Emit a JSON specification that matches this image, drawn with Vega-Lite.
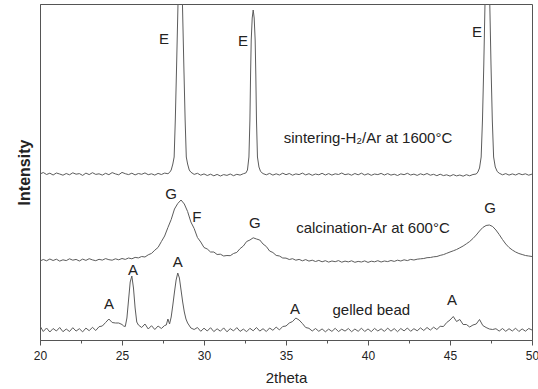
{
  "$schema": "https://vega.github.io/schema/vega-lite/v6.json",
  "width": 492,
  "height": 336,
  "autosize": "none",
  "padding": {"left": 40, "top": 4, "right": 6, "bottom": 49},
  "background": "white",
  "config": {"view": {"stroke": "#555", "strokeWidth": 1}, "font": "Liberation Sans"},
  "resolve": {"scale": {"x": "shared", "y": "shared"}, "axis": {"x": "independent"}},
  "layer": [
    {
      "data": {"values": [
        {"s":"t","x":20.0,"y":166},{"s":"t","x":20.2,"y":167.5},{"s":"t","x":20.4,"y":165.5},{"s":"t","x":20.6,"y":166.8},{"s":"t","x":20.8,"y":165},
        {"s":"t","x":21.0,"y":167},{"s":"t","x":21.2,"y":166},{"s":"t","x":21.4,"y":164.8},{"s":"t","x":21.6,"y":166.5},{"s":"t","x":21.8,"y":165.2},
        {"s":"t","x":22.0,"y":167.2},{"s":"t","x":22.2,"y":165.8},{"s":"t","x":22.4,"y":166.4},{"s":"t","x":22.6,"y":164.6},{"s":"t","x":22.8,"y":166.9},
        {"s":"t","x":23.0,"y":165.4},{"s":"t","x":23.2,"y":167.3},{"s":"t","x":23.4,"y":165.6},{"s":"t","x":23.6,"y":166.2},{"s":"t","x":23.8,"y":164.9},
        {"s":"t","x":24.0,"y":166.7},{"s":"t","x":24.2,"y":165.3},{"s":"t","x":24.4,"y":167.4},{"s":"t","x":24.6,"y":166.1},{"s":"t","x":24.8,"y":165.2},
        {"s":"t","x":25.0,"y":167.6},{"s":"t","x":25.2,"y":166.3},{"s":"t","x":25.4,"y":165.4},{"s":"t","x":25.6,"y":166.8},{"s":"t","x":25.8,"y":165.1},
        {"s":"t","x":26.0,"y":166.5},{"s":"t","x":26.2,"y":165.7},{"s":"t","x":26.4,"y":167.1},{"s":"t","x":26.6,"y":165.3},{"s":"t","x":26.8,"y":166.2},
        {"s":"t","x":27.0,"y":164.9},{"s":"t","x":27.2,"y":166.6},{"s":"t","x":27.4,"y":165.5},{"s":"t","x":27.6,"y":166.9},{"s":"t","x":27.8,"y":166.3},
        {"s":"t","x":27.9,"y":167.5},{"s":"t","x":28.0,"y":170},{"s":"t","x":28.1,"y":176},{"s":"t","x":28.18,"y":183},{"s":"t","x":28.25,"y":220},
        {"s":"t","x":28.33,"y":275},{"s":"t","x":28.41,"y":333},{"s":"t","x":28.48,"y":385},{"s":"t","x":28.55,"y":432},{"s":"t","x":28.62,"y":385},
        {"s":"t","x":28.69,"y":333},{"s":"t","x":28.77,"y":275},{"s":"t","x":28.85,"y":220},{"s":"t","x":28.92,"y":183},{"s":"t","x":29.0,"y":176},
        {"s":"t","x":29.1,"y":170},{"s":"t","x":29.2,"y":167.8},{"s":"t","x":29.4,"y":165.6},{"s":"t","x":29.6,"y":166.7},{"s":"t","x":29.8,"y":164.8},
        {"s":"t","x":30.0,"y":166.1},{"s":"t","x":30.2,"y":164.5},{"s":"t","x":30.4,"y":165.8},{"s":"t","x":30.6,"y":164.2},{"s":"t","x":30.8,"y":165.6},
        {"s":"t","x":31.0,"y":164},{"s":"t","x":31.2,"y":165.4},{"s":"t","x":31.4,"y":164.6},{"s":"t","x":31.6,"y":166},{"s":"t","x":31.8,"y":164.3},
        {"s":"t","x":32.0,"y":165.7},{"s":"t","x":32.2,"y":164.9},{"s":"t","x":32.4,"y":166.3},{"s":"t","x":32.55,"y":167},{"s":"t","x":32.65,"y":170},
        {"s":"t","x":32.74,"y":183},{"s":"t","x":32.8,"y":220},{"s":"t","x":32.84,"y":265},{"s":"t","x":32.88,"y":300},{"s":"t","x":32.94,"y":322},
        {"s":"t","x":33.0,"y":330},{"s":"t","x":33.06,"y":322},{"s":"t","x":33.12,"y":300},{"s":"t","x":33.16,"y":265},{"s":"t","x":33.2,"y":220},
        {"s":"t","x":33.26,"y":183},{"s":"t","x":33.35,"y":173},{"s":"t","x":33.45,"y":168.5},{"s":"t","x":33.6,"y":166.4},{"s":"t","x":33.8,"y":165.2},
        {"s":"t","x":34.0,"y":166.6},{"s":"t","x":34.2,"y":164.9},{"s":"t","x":34.4,"y":166.2},{"s":"t","x":34.6,"y":165},{"s":"t","x":34.8,"y":166.8},
        {"s":"t","x":35.0,"y":165.3},{"s":"t","x":35.2,"y":166.5},{"s":"t","x":35.4,"y":164.8},{"s":"t","x":35.6,"y":166.1},{"s":"t","x":35.8,"y":165.4},
        {"s":"t","x":36.0,"y":166.9},{"s":"t","x":36.2,"y":165.1},{"s":"t","x":36.4,"y":166.3},{"s":"t","x":36.6,"y":164.7},{"s":"t","x":36.8,"y":166},
        {"s":"t","x":37.0,"y":165.2},{"s":"t","x":37.2,"y":166.7},{"s":"t","x":37.4,"y":165},{"s":"t","x":37.6,"y":166.4},{"s":"t","x":37.8,"y":164.9},
        {"s":"t","x":38.0,"y":166.2},{"s":"t","x":38.2,"y":165.5},{"s":"t","x":38.4,"y":167},{"s":"t","x":38.6,"y":165.3},{"s":"t","x":38.8,"y":166.1},
        {"s":"t","x":39.0,"y":164.8},{"s":"t","x":39.2,"y":166.5},{"s":"t","x":39.4,"y":165.2},{"s":"t","x":39.6,"y":166.8},{"s":"t","x":39.8,"y":165},
        {"s":"t","x":40.0,"y":166.3},{"s":"t","x":40.2,"y":164.7},{"s":"t","x":40.4,"y":166},{"s":"t","x":40.6,"y":165.4},{"s":"t","x":40.8,"y":166.6},
        {"s":"t","x":41.0,"y":165},{"s":"t","x":41.2,"y":166.4},{"s":"t","x":41.4,"y":164.9},{"s":"t","x":41.6,"y":165.8},{"s":"t","x":41.8,"y":164.5},
        {"s":"t","x":42.0,"y":166.1},{"s":"t","x":42.2,"y":165.3},{"s":"t","x":42.4,"y":166.7},{"s":"t","x":42.6,"y":165},{"s":"t","x":42.8,"y":165.9},
        {"s":"t","x":43.0,"y":164.6},{"s":"t","x":43.2,"y":166.2},{"s":"t","x":43.4,"y":165.1},{"s":"t","x":43.6,"y":166.5},{"s":"t","x":43.8,"y":164.8},
        {"s":"t","x":44.0,"y":165.7},{"s":"t","x":44.2,"y":164.3},{"s":"t","x":44.4,"y":165.8},{"s":"t","x":44.6,"y":164.4},{"s":"t","x":44.8,"y":165.2},
        {"s":"t","x":45.0,"y":163.9},{"s":"t","x":45.2,"y":165.4},{"s":"t","x":45.4,"y":164.1},{"s":"t","x":45.6,"y":165},{"s":"t","x":45.8,"y":163.8},
        {"s":"t","x":46.0,"y":165.3},{"s":"t","x":46.2,"y":164.2},{"s":"t","x":46.4,"y":165.5},{"s":"t","x":46.6,"y":166},{"s":"t","x":46.7,"y":168},
        {"s":"t","x":46.8,"y":172},{"s":"t","x":46.9,"y":183},{"s":"t","x":46.98,"y":220},{"s":"t","x":47.06,"y":275},{"s":"t","x":47.13,"y":333},
        {"s":"t","x":47.2,"y":390},{"s":"t","x":47.28,"y":450},{"s":"t","x":47.36,"y":390},{"s":"t","x":47.43,"y":333},{"s":"t","x":47.5,"y":275},
        {"s":"t","x":47.58,"y":220},{"s":"t","x":47.66,"y":183},{"s":"t","x":47.76,"y":173},{"s":"t","x":47.88,"y":168.5},{"s":"t","x":48.0,"y":166.8},
        {"s":"t","x":48.2,"y":165.2},{"s":"t","x":48.4,"y":166.4},{"s":"t","x":48.6,"y":164.9},{"s":"t","x":48.8,"y":166.1},{"s":"t","x":49.0,"y":165},
        {"s":"t","x":49.2,"y":166.5},{"s":"t","x":49.4,"y":165.3},{"s":"t","x":49.6,"y":166.2},{"s":"t","x":49.8,"y":164.8},{"s":"t","x":50.0,"y":165.9},

        {"s":"m","x":20.0,"y":79},{"s":"m","x":20.2,"y":80.5},{"s":"m","x":20.4,"y":79.2},{"s":"m","x":20.6,"y":81},{"s":"m","x":20.8,"y":79.5},
        {"s":"m","x":21.0,"y":80.8},{"s":"m","x":21.2,"y":78.9},{"s":"m","x":21.4,"y":80.2},{"s":"m","x":21.6,"y":79.4},{"s":"m","x":21.8,"y":81.2},
        {"s":"m","x":22.0,"y":79.8},{"s":"m","x":22.2,"y":80.6},{"s":"m","x":22.4,"y":79},{"s":"m","x":22.6,"y":80.9},{"s":"m","x":22.8,"y":79.6},
        {"s":"m","x":23.0,"y":81.3},{"s":"m","x":23.2,"y":80.1},{"s":"m","x":23.4,"y":79.3},{"s":"m","x":23.6,"y":80.7},{"s":"m","x":23.8,"y":79.9},
        {"s":"m","x":24.0,"y":81.4},{"s":"m","x":24.2,"y":80.3},{"s":"m","x":24.4,"y":79.8},{"s":"m","x":24.6,"y":81.2},{"s":"m","x":24.8,"y":80.2},
        {"s":"m","x":25.0,"y":81.5},{"s":"m","x":25.2,"y":80.6},{"s":"m","x":25.4,"y":82},{"s":"m","x":25.6,"y":81.2},{"s":"m","x":25.8,"y":82.6},
        {"s":"m","x":26.0,"y":82.1},{"s":"m","x":26.2,"y":83.5},{"s":"m","x":26.4,"y":83},{"s":"m","x":26.6,"y":85.2},{"s":"m","x":26.8,"y":86.6},
        {"s":"m","x":27.0,"y":89.8},{"s":"m","x":27.2,"y":92.6},{"s":"m","x":27.4,"y":98.4},{"s":"m","x":27.6,"y":104},{"s":"m","x":27.8,"y":112.5},
        {"s":"m","x":28.0,"y":120.5},{"s":"m","x":28.2,"y":131},{"s":"m","x":28.4,"y":136.5},{"s":"m","x":28.6,"y":140},{"s":"m","x":28.8,"y":136},
        {"s":"m","x":29.0,"y":128.5},{"s":"m","x":29.2,"y":118},{"s":"m","x":29.4,"y":111.5},{"s":"m","x":29.6,"y":102.5},{"s":"m","x":29.8,"y":98},
        {"s":"m","x":30.0,"y":92.5},{"s":"m","x":30.2,"y":91},{"s":"m","x":30.4,"y":88},{"s":"m","x":30.6,"y":88},{"s":"m","x":30.8,"y":85.5},
        {"s":"m","x":31.0,"y":85.8},{"s":"m","x":31.2,"y":84},{"s":"m","x":31.4,"y":84.5},{"s":"m","x":31.6,"y":84.3},{"s":"m","x":31.8,"y":86.5},
        {"s":"m","x":32.0,"y":87.6},{"s":"m","x":32.2,"y":91.4},{"s":"m","x":32.4,"y":94},{"s":"m","x":32.6,"y":98.5},{"s":"m","x":32.8,"y":100},
        {"s":"m","x":33.0,"y":102.2},{"s":"m","x":33.2,"y":101},{"s":"m","x":33.4,"y":100},{"s":"m","x":33.6,"y":96},{"s":"m","x":33.8,"y":93.5},
        {"s":"m","x":34.0,"y":89},{"s":"m","x":34.2,"y":87.5},{"s":"m","x":34.4,"y":84.6},{"s":"m","x":34.6,"y":84},{"s":"m","x":34.8,"y":82},
        {"s":"m","x":35.0,"y":81.9},{"s":"m","x":35.2,"y":80.5},{"s":"m","x":35.4,"y":81.3},{"s":"m","x":35.6,"y":79.8},{"s":"m","x":35.8,"y":80.6},
        {"s":"m","x":36.0,"y":79.2},{"s":"m","x":36.2,"y":80.4},{"s":"m","x":36.4,"y":78.9},{"s":"m","x":36.6,"y":79.8},{"s":"m","x":36.8,"y":78.5},
        {"s":"m","x":37.0,"y":79.6},{"s":"m","x":37.2,"y":78.2},{"s":"m","x":37.4,"y":79.3},{"s":"m","x":37.6,"y":77.9},{"s":"m","x":37.8,"y":79},
        {"s":"m","x":38.0,"y":78.3},{"s":"m","x":38.2,"y":79.4},{"s":"m","x":38.4,"y":77.8},{"s":"m","x":38.6,"y":78.9},{"s":"m","x":38.8,"y":78.1},
        {"s":"m","x":39.0,"y":79.2},{"s":"m","x":39.2,"y":77.7},{"s":"m","x":39.4,"y":78.6},{"s":"m","x":39.6,"y":78},{"s":"m","x":39.8,"y":79.1},
        {"s":"m","x":40.0,"y":77.6},{"s":"m","x":40.2,"y":78.8},{"s":"m","x":40.4,"y":78.2},{"s":"m","x":40.6,"y":79.3},{"s":"m","x":40.8,"y":78},
        {"s":"m","x":41.0,"y":79},{"s":"m","x":41.2,"y":78.4},{"s":"m","x":41.4,"y":79.5},{"s":"m","x":41.6,"y":78.6},{"s":"m","x":41.8,"y":79.8},
        {"s":"m","x":42.0,"y":79},{"s":"m","x":42.2,"y":80.2},{"s":"m","x":42.4,"y":79.4},{"s":"m","x":42.6,"y":80.6},{"s":"m","x":42.8,"y":80},
        {"s":"m","x":43.0,"y":80.8},{"s":"m","x":43.2,"y":81.2},{"s":"m","x":43.4,"y":81.5},{"s":"m","x":43.6,"y":82.3},{"s":"m","x":43.8,"y":82.5},
        {"s":"m","x":44.0,"y":83.2},{"s":"m","x":44.2,"y":83.5},{"s":"m","x":44.4,"y":84.6},{"s":"m","x":44.6,"y":85.4},{"s":"m","x":44.8,"y":86.7},
        {"s":"m","x":45.0,"y":88},{"s":"m","x":45.2,"y":89.2},{"s":"m","x":45.4,"y":90.5},{"s":"m","x":45.6,"y":92.2},{"s":"m","x":45.8,"y":94},
        {"s":"m","x":46.0,"y":96.2},{"s":"m","x":46.2,"y":98.5},{"s":"m","x":46.4,"y":101.5},{"s":"m","x":46.6,"y":105},{"s":"m","x":46.8,"y":109},
        {"s":"m","x":47.0,"y":112.5},{"s":"m","x":47.2,"y":114.5},{"s":"m","x":47.4,"y":115},{"s":"m","x":47.6,"y":113.5},{"s":"m","x":47.8,"y":110},
        {"s":"m","x":48.0,"y":105.5},{"s":"m","x":48.2,"y":100.5},{"s":"m","x":48.4,"y":96},{"s":"m","x":48.6,"y":92.5},{"s":"m","x":48.8,"y":90},
        {"s":"m","x":49.0,"y":88},{"s":"m","x":49.2,"y":86.5},{"s":"m","x":49.4,"y":85.5},{"s":"m","x":49.6,"y":84.5},{"s":"m","x":49.8,"y":84},
        {"s":"m","x":50.0,"y":83.5},

        {"s":"b","x":20.0,"y":14},{"s":"b","x":20.2,"y":8.5},{"s":"b","x":20.4,"y":12},{"s":"b","x":20.6,"y":8},{"s":"b","x":20.8,"y":11.5},
        {"s":"b","x":21.0,"y":9},{"s":"b","x":21.2,"y":12.5},{"s":"b","x":21.4,"y":8.3},{"s":"b","x":21.6,"y":11},{"s":"b","x":21.8,"y":8.5},
        {"s":"b","x":22.0,"y":12.3},{"s":"b","x":22.2,"y":8.9},{"s":"b","x":22.4,"y":11.3},{"s":"b","x":22.6,"y":8.1},{"s":"b","x":22.8,"y":11.9},
        {"s":"b","x":23.0,"y":9.3},{"s":"b","x":23.2,"y":12.7},{"s":"b","x":23.4,"y":9.5},{"s":"b","x":23.6,"y":13.3},{"s":"b","x":23.8,"y":14},
        {"s":"b","x":24.0,"y":17.5},{"s":"b","x":24.2,"y":21},{"s":"b","x":24.4,"y":17.5},{"s":"b","x":24.6,"y":17},{"s":"b","x":24.8,"y":17},
        {"s":"b","x":25.0,"y":15.5},{"s":"b","x":25.1,"y":14},{"s":"b","x":25.2,"y":13.5},{"s":"b","x":25.3,"y":22},{"s":"b","x":25.4,"y":40},
        {"s":"b","x":25.5,"y":58},{"s":"b","x":25.6,"y":64},{"s":"b","x":25.7,"y":52},{"s":"b","x":25.8,"y":32},{"s":"b","x":25.9,"y":18},
        {"s":"b","x":26.0,"y":15},{"s":"b","x":26.2,"y":12.5},{"s":"b","x":26.4,"y":16},{"s":"b","x":26.6,"y":11},{"s":"b","x":26.8,"y":14.3},
        {"s":"b","x":27.0,"y":10.5},{"s":"b","x":27.2,"y":14},{"s":"b","x":27.4,"y":11.5},{"s":"b","x":27.6,"y":14.5},{"s":"b","x":27.7,"y":15},
        {"s":"b","x":27.8,"y":21},{"s":"b","x":27.9,"y":16},{"s":"b","x":28.0,"y":23},{"s":"b","x":28.1,"y":35},{"s":"b","x":28.2,"y":48},
        {"s":"b","x":28.3,"y":60},{"s":"b","x":28.4,"y":67},{"s":"b","x":28.5,"y":62},{"s":"b","x":28.6,"y":50},{"s":"b","x":28.7,"y":38},
        {"s":"b","x":28.8,"y":28},{"s":"b","x":28.9,"y":21},{"s":"b","x":29.0,"y":17},{"s":"b","x":29.2,"y":12},{"s":"b","x":29.4,"y":10.5},
        {"s":"b","x":29.6,"y":12.5},{"s":"b","x":29.8,"y":8.7},{"s":"b","x":30.0,"y":11.8},{"s":"b","x":30.2,"y":9},{"s":"b","x":30.4,"y":12.3},
        {"s":"b","x":30.6,"y":8.4},{"s":"b","x":30.8,"y":11.2},{"s":"b","x":31.0,"y":8.8},{"s":"b","x":31.2,"y":12.1},{"s":"b","x":31.4,"y":8.2},
        {"s":"b","x":31.6,"y":11.4},{"s":"b","x":31.8,"y":9.1},{"s":"b","x":32.0,"y":12.4},{"s":"b","x":32.2,"y":8.6},{"s":"b","x":32.4,"y":10.9},
        {"s":"b","x":32.6,"y":8.3},{"s":"b","x":32.8,"y":11.7},{"s":"b","x":33.0,"y":9.2},{"s":"b","x":33.2,"y":12.5},{"s":"b","x":33.4,"y":8.9},
        {"s":"b","x":33.6,"y":11.3},{"s":"b","x":33.8,"y":8.5},{"s":"b","x":34.0,"y":12},{"s":"b","x":34.2,"y":9.7},{"s":"b","x":34.4,"y":12.9},
        {"s":"b","x":34.6,"y":10.1},{"s":"b","x":34.8,"y":13.5},{"s":"b","x":35.0,"y":14},{"s":"b","x":35.2,"y":17},{"s":"b","x":35.4,"y":18.5},
        {"s":"b","x":35.6,"y":22},{"s":"b","x":35.8,"y":20},{"s":"b","x":36.0,"y":16.5},{"s":"b","x":36.2,"y":12.5},{"s":"b","x":36.4,"y":11.7},
        {"s":"b","x":36.6,"y":9},{"s":"b","x":36.8,"y":11.5},{"s":"b","x":37.0,"y":8.7},{"s":"b","x":37.2,"y":11.1},{"s":"b","x":37.4,"y":8.2},
        {"s":"b","x":37.6,"y":10.9},{"s":"b","x":37.8,"y":8.6},{"s":"b","x":38.0,"y":11.7},{"s":"b","x":38.2,"y":8.4},{"s":"b","x":38.4,"y":10.8},
        {"s":"b","x":38.6,"y":8.9},{"s":"b","x":38.8,"y":11.5},{"s":"b","x":39.0,"y":8.3},{"s":"b","x":39.2,"y":11},{"s":"b","x":39.4,"y":8.7},
        {"s":"b","x":39.6,"y":11.8},{"s":"b","x":39.8,"y":8.5},{"s":"b","x":40.0,"y":11.1},{"s":"b","x":40.2,"y":8.4},{"s":"b","x":40.4,"y":11.6},
        {"s":"b","x":40.6,"y":9},{"s":"b","x":40.8,"y":11.2},{"s":"b","x":41.0,"y":8.6},{"s":"b","x":41.2,"y":11.9},{"s":"b","x":41.4,"y":8.8},
        {"s":"b","x":41.6,"y":11.4},{"s":"b","x":41.8,"y":8.3},{"s":"b","x":42.0,"y":11.5},{"s":"b","x":42.2,"y":9.1},{"s":"b","x":42.4,"y":12},
        {"s":"b","x":42.6,"y":8.7},{"s":"b","x":42.8,"y":11.3},{"s":"b","x":43.0,"y":9.2},{"s":"b","x":43.2,"y":12.1},{"s":"b","x":43.4,"y":9.5},
        {"s":"b","x":43.6,"y":12.5},{"s":"b","x":43.8,"y":9.9},{"s":"b","x":44.0,"y":12.8},{"s":"b","x":44.2,"y":10.5},{"s":"b","x":44.4,"y":13.7},
        {"s":"b","x":44.6,"y":13.5},{"s":"b","x":44.8,"y":17.5},{"s":"b","x":45.0,"y":20},{"s":"b","x":45.2,"y":23.5},{"s":"b","x":45.4,"y":18.5},
        {"s":"b","x":45.6,"y":20.5},{"s":"b","x":45.8,"y":15.5},{"s":"b","x":46.0,"y":15.5},{"s":"b","x":46.2,"y":13},{"s":"b","x":46.4,"y":15},
        {"s":"b","x":46.6,"y":16},{"s":"b","x":46.8,"y":20.5},{"s":"b","x":47.0,"y":14.5},{"s":"b","x":47.2,"y":12.5},{"s":"b","x":47.4,"y":11},
        {"s":"b","x":47.6,"y":10.5},{"s":"b","x":47.8,"y":11.3},{"s":"b","x":48.0,"y":8.9},{"s":"b","x":48.2,"y":11.5},{"s":"b","x":48.4,"y":8.7},
        {"s":"b","x":48.6,"y":11.3},{"s":"b","x":48.8,"y":9},{"s":"b","x":49.0,"y":11.8},{"s":"b","x":49.2,"y":8.5},{"s":"b","x":49.4,"y":11.1},
        {"s":"b","x":49.6,"y":8.8},{"s":"b","x":49.8,"y":11.5},{"s":"b","x":50.0,"y":10}
      ]},
      "mark": {"type": "line", "clip": true, "color": "#5c5c5c", "strokeWidth": 1},
      "encoding": {
        "x": {"field": "x", "type": "quantitative",
              "scale": {"domain": [20, 50], "nice": false, "zero": false},
              "axis": {"title": "2theta", "values": [20, 25, 30, 35, 40, 45, 50], "tickSize": 5, "tickColor": "#555", "domainColor": "#555", "grid": false,
                       "labelFlush": false, "labelOverlap": false,
                       "labelFont": "Liberation Sans", "labelFontSize": 12, "labelColor": "#222", "labelPadding": 5,
                       "titleFont": "Liberation Sans", "titleFontSize": 15, "titleFontWeight": "normal", "titleColor": "#222", "titlePadding": 9}},
        "y": {"field": "y", "type": "quantitative",
              "scale": {"domain": [0, 336], "nice": false, "zero": false},
              "axis": {"title": "Intensity", "labels": false, "ticks": false, "grid": false, "domainColor": "#555",
                       "titleFont": "Liberation Sans", "titleFontSize": 16, "titleFontWeight": "bold", "titleColor": "#222", "titlePadding": 8}},
        "detail": {"field": "s", "type": "nominal"}
      }
    },
    {
      "data": {"values": [
        {"t":"E","x":27.56,"y":301},
        {"t":"E","x":32.38,"y":299},
        {"t":"E","x":46.65,"y":308},
        {"t":"sintering-H₂/Ar at 1600°C","x":40.0,"y":202},
        {"t":"G","x":28.0,"y":146},
        {"t":"F","x":29.57,"y":123},
        {"t":"G","x":33.1,"y":117},
        {"t":"calcination-Ar at 600°C","x":40.3,"y":112},
        {"t":"G","x":47.44,"y":132},
        {"t":"A","x":24.2,"y":36},
        {"t":"A","x":25.67,"y":70},
        {"t":"A","x":28.4,"y":78},
        {"t":"A","x":35.55,"y":31},
        {"t":"gelled bead","x":40.2,"y":30},
        {"t":"A","x":45.12,"y":40}
      ]},
      "mark": {"type": "text", "font": "Liberation Sans", "fontSize": 15, "color": "#222", "align": "center", "baseline": "middle"},
      "encoding": {
        "x": {"field": "x", "type": "quantitative",
              "axis": {"orient": "bottom", "values": [22.5, 27.5, 32.5, 37.5, 42.5, 47.5], "tickSize": 3, "tickColor": "#555", "labels": false, "domain": false, "title": null, "grid": false}},
        "y": {"field": "y", "type": "quantitative"},
        "text": {"field": "t", "type": "nominal"}
      }
    }
  ]
}
